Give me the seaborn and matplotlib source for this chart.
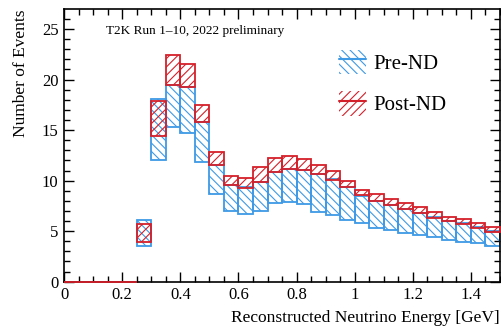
import numpy as np
import pandas as pd
import matplotlib
matplotlib.use("Agg")
import matplotlib.pyplot as plt
import seaborn as sns
from matplotlib.patches import Patch
from matplotlib.lines import Line2D
from matplotlib.ticker import MultipleLocator, FuncFormatter

# ---- data (bin left edges, width 0.05 GeV) ----
bin_left = [0.00, 0.05, 0.10, 0.15, 0.20,
            0.25, 0.30, 0.35, 0.40, 0.45, 0.50, 0.55, 0.60, 0.65, 0.70,
            0.75, 0.80, 0.85, 0.90, 0.95, 1.00, 1.05, 1.10, 1.15, 1.20,
            1.25, 1.30, 1.35, 1.40, 1.45]
bin_width = 0.05
pre_lo = [0, 0, 0, 0, 0,
          3.55, 12.0, 15.3, 14.75, 11.85, 8.7, 6.95, 6.65, 6.95, 7.75,
          7.85, 7.7, 6.85, 6.6, 6.1, 5.8, 5.3, 5.1, 4.85, 4.6,
          4.4, 4.15, 3.95, 3.8, 3.55]
pre_hi = [0, 0, 0, 0, 0,
          6.1, 18.1, 19.45, 19.3, 15.8, 11.5, 9.6, 9.35, 9.85, 10.85,
          11.2, 11.1, 10.7, 10.15, 9.4, 8.5, 8.0, 7.6, 7.2, 6.8,
          6.4, 6.05, 5.8, 5.4, 5.0]
post_lo = [0, 0, 0, 0, 0,
           3.95, 14.45, 19.45, 19.25, 15.85, 11.55, 9.55, 9.3, 9.85, 10.9,
           11.2, 11.1, 10.7, 10.1, 9.4, 8.55, 8.0, 7.6, 7.15, 6.75,
           6.35, 6.0, 5.75, 5.35, 4.95]
post_hi = [0, 0, 0, 0, 0,
           5.7, 17.9, 22.45, 21.5, 17.5, 12.85, 10.45, 10.3, 11.3, 12.2,
           12.4, 12.15, 11.55, 10.95, 9.95, 9.1, 8.65, 8.2, 7.8, 7.35,
           6.85, 6.45, 6.2, 5.8, 5.45]
series_labels = ["Pre-ND", "Post-ND"]
x_ticks = [0, 0.2, 0.4, 0.6, 0.8, 1.0, 1.2, 1.4]
y_ticks = [0, 5, 10, 15, 20, 25]

BLUE = "#3f9ae6"
RED = "#d4202a"
HATCH_PRE = "\\\\\\\\"
HATCH_POST = "////"

sns.set_theme(style="ticks")
plt.rcParams['font.family'] = ['Liberation Serif', 'DejaVu Serif']
plt.rcParams['hatch.linewidth'] = 0.8
plt.rcParams['axes.edgecolor'] = 'black'
plt.rcParams['xtick.color'] = 'black'
plt.rcParams['ytick.color'] = 'black'
plt.rcParams['text.color'] = 'black'
plt.rcParams['axes.labelcolor'] = 'black'

df = pd.DataFrame({"left": bin_left, "pre_lo": pre_lo, "pre_hi": pre_hi,
                   "post_lo": post_lo, "post_hi": post_hi})

fig = plt.figure(figsize=(5.01, 3.27), dpi=100)
ax = fig.add_axes([0.128, 0.1385, 0.870, 0.833])

ax.bar(df["left"], df["pre_hi"] - df["pre_lo"], bottom=df["pre_lo"], width=bin_width,
       align="edge", facecolor="none", edgecolor=BLUE, linewidth=1.3, hatch=HATCH_PRE,
       zorder=2)
ax.bar(df["left"], df["post_hi"] - df["post_lo"], bottom=df["post_lo"], width=bin_width,
       align="edge", facecolor="none", edgecolor=RED, linewidth=1.3, hatch=HATCH_POST,
       zorder=3, clip_on=False)

ax.set_xlim(0, 1.5)
ax.set_ylim(0, 26.95)
ax.set_xticks(x_ticks)
ax.set_yticks(y_ticks)
ax.xaxis.set_minor_locator(MultipleLocator(0.05))
ax.yaxis.set_minor_locator(MultipleLocator(1))
ax.xaxis.set_major_formatter(FuncFormatter(lambda v, p: "%g" % v))
ax.tick_params(which="both", direction="in", top=True, right=True, width=1.0)
ax.tick_params(which="major", length=7, labelsize=12, pad=4)
ax.tick_params(which="minor", length=4)
for s in ax.spines.values():
    s.set_linewidth(1.2)
    s.set_color("black")

ax.set_xlabel("Reconstructed Neutrino Energy [GeV]", loc="right", fontsize=12.5, labelpad=5)
ax.set_ylabel("Number of Events", loc="top", fontsize=12.5, labelpad=9)

ax.text(0.144, 24.8, "T2K Run 1\u201310, 2022 preliminary", fontsize=9.5, va="center", ha="left")

h_pre = (Patch(facecolor="none", edgecolor=BLUE, linewidth=0, hatch=HATCH_PRE),
         Line2D([], [], color=BLUE, linewidth=1.5))
h_post = (Patch(facecolor="none", edgecolor=RED, linewidth=0, hatch=HATCH_POST),
          Line2D([], [], color=RED, linewidth=1.5))
ax.legend([h_pre, h_post], series_labels, loc="upper left", bbox_to_anchor=(0.63, 0.852),
          frameon=False, fontsize=15, handlelength=1.3, handleheight=1.45,
          handletextpad=0.35, labelspacing=0.8, borderpad=0, borderaxespad=0)

fig.savefig("out.png", dpi=100)
